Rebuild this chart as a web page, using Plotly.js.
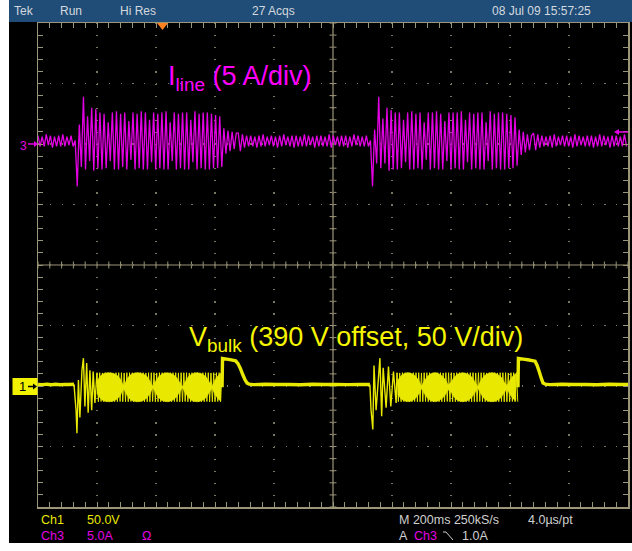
<!DOCTYPE html>
<html><head><meta charset="utf-8">
<script src="https://cdn.plot.ly/plotly-3.0.1.min.js"></script>
<style>html,body{margin:0;padding:0;background:#fff}#chart{width:632px;height:551px}</style>
</head><body><div id="chart"></div>
<script>
// ---------------- DATA ----------------
// Time axis: 200 ms/div, 10 div. Ch3 = line current (A), Ch1 = Vbulk deviation from 390 V (V).
const iStep = 7; // ms between plotted current samples
const iBase1Start = 0;
const iBase1 = [0.7,-0.2,0.6,-0.2,0.8,-0.1,0.7,-0.3,0.6,-0.2,0.7,-0.2,0.8,-0.2,0.6,-0.1,0.7,-0.2];
const iBurst1Start = 126;
const iBurst1 = [0.3,-3.5,1.6,-1.9,3.9,-2.1,2.3,-1.4,3.0,-2.2,2.9,-2.0,
  2.6,-2.1,2.5,-2.0,1.8,-1.4,2.6,-2.1,2.7,-2.1,
  2.5,-1.9,2.6,-2.1,1.9,-1.3,2.6,-2.1,2.5,-2.0,
  2.7,-2.1,2.6,-2.1,2.0,-1.5,2.6,-2.1,2.5,-2.0,
  2.6,-2.1,2.7,-2.1,1.8,-1.4,2.6,-2.1,2.5,-2.0,
  2.6,-2.1,2.6,-2.1,2.0,-1.5,2.7,-2.1,2.5,-2.0,
  2.6,-2.1,2.6,-2.1,2.5,-2.0,2.4,-2.0,2.3,-1.9];
const iTail1Start = 630;
const iTail1 = [1.3,-0.8,1.1,-0.6,1.0,-0.4,0.9];
const iBase2Start = 679;
const iBase2 = [0.9,-0.6,0.8,-0.3,0.7,-0.2,0.7,-0.2,
  0.6,-0.3,0.7,-0.2,0.8,-0.2,0.6,-0.1,
  0.7,-0.2,0.6,-0.3,0.7,-0.2,0.8,-0.1,
  0.6,-0.2,0.7,-0.3,0.7,-0.2,0.6,-0.2,
  0.8,-0.2,0.7,-0.1,0.6,-0.3,0.7,-0.2,
  0.7,-0.2,0.6,-0.2,0.8,-0.3,0.7,-0.1,
  0.6,-0.2,0.7,-0.2,0.7,-0.3,0.6,-0.2,
  0.8,-0.1,0.7,-0.2,0.6,-0.2,0.7,-0.2];
const iBurst2Start = 1127;
const iBurst2 = [0.3,-3.5,1.2,-1.6,3.9,-2.0,2.1,-1.6,3.0,-2.2,2.8,-2.1,
  2.6,-2.1,2.6,-2.0,2.0,-1.5,2.6,-2.1,2.7,-2.1,
  2.5,-2.0,2.6,-2.1,1.8,-1.3,2.6,-2.1,2.6,-2.0,
  2.7,-2.1,2.5,-2.1,1.9,-1.4,2.6,-2.1,2.6,-2.0,
  2.6,-2.1,2.7,-2.1,2.0,-1.5,2.6,-2.1,2.5,-2.0,
  2.6,-2.1,2.6,-2.1,1.8,-1.4,2.7,-2.1,2.5,-2.0,
  2.6,-2.1,2.6,-2.1,2.5,-2.0,2.4,-2.0,2.2,-1.8];
const iTail2Start = 1631;
const iTail2 = [1.2,-0.9,1.0,-0.7,0.8,-0.5,0.7];
const iBase3Start = 1680;
const iBase3 = [0.9,-0.5,0.8,-0.3,0.7,-0.2,0.6,-0.2,
  0.7,-0.3,0.8,-0.2,0.6,-0.1,0.7,-0.2,
  0.7,-0.2,0.6,-0.3,0.8,-0.2,0.7,-0.1,
  0.6,-0.2,0.7,-0.2,0.7,-0.3,0.6,-0.2,
  0.8,-0.2,0.7,-0.1,0.6,-0.3,0.7,-0.2,
  0.7,-0.2,0.6,-0.2,0.8,-0.2];

// Vbulk quiet parts (ms, V)
const vBase1T = [0,15,30,45,60,75,90,105,122];
const vBase1V = [1.3,1.0,1.5,1.1,1.4,1.0,1.3,1.2,1.4];
const vTail1T = [624,625.5,640,655,670,678,686,694,702,709,716,730,770,810,850,890,930,970,1010,1050,1090,1125];
const vTail1V = [-1,22.8,22.2,21.6,20.8,18.5,14.5,9.5,5,2.4,1.5,1.1,1.4,1.2,1.3,1.0,1.4,1.2,1.3,1.1,1.3,1.2];
const vTail2T = [1627,1628.5,1645,1660,1685,1692,1699,1706,1712,1720,1735,1775,1815,1855,1895,1935,1975,2000];
const vTail2V = [-1,22.8,22.2,21.7,20.5,17,12,6.5,2.5,1.5,1.1,1.4,1.2,1.3,1.0,1.4,1.2,1.3];
// Vbulk start-up ringing
const vSpike1T = [122,129,132,137,142,149,154,159,165,170,176,182,187,193,200];
const vSpike1V = [1.3,-20,-39,5,-26,13,23,-17,19,-22,13,-20,12,-14,11];
const vSpike2T = [1125,1129,1135,1139,1146,1159,1165,1170,1180,1188,1196,1205,1214,1217];
const vSpike2V = [1.2,-20,-36,17,-20,23,-25,15,-18,16,-17,12,-14,11];
// Vbulk ripple band (stroke peaks)
const vBandStep = 4.6;
const vBand1Start = 200;
const vBand1 = [11,-13,11,-12.8,10.8,-13,11,-13,11,-12.8,
  11,-13,10.8,-13,11,-13,11,-12.8,11,-13,
  10.8,-13,11,-13,11,-12.8,11,-13,10.8,-13,
  11,-13,11,-12.8,11,-13,10.8,-13,11,-13,
  11,-12.8,11,-13,10.8,-13,11,-13,11,-12.8,
  11,-13,10.8,-13,11,-13,11,-12.8,11,-13,
  10.8,-13,11,-13,11,-12.8,11,-13,10.8,-13,
  11,-13,11,-12.8,11,-13,10.8,-13,11,-13,
  11,-12.8,11,-13,10.8,-13,11,-13,11,-12.8,
  11,-13,11];
const vBand2Start = 1217;
const vBand2 = [11,-13,10.8,-13,11,-12.8,11,-13,11,-13,
  10.8,-13,11,-12.8,11,-13,11,-13,10.8,-13,
  11,-12.8,11,-13,11,-13,10.8,-13,11,-12.8,
  11,-13,11,-13,10.8,-13,11,-12.8,11,-13,
  11,-13,10.8,-13,11,-12.8,11,-13,11,-13,
  10.8,-13,11,-12.8,11,-13,11,-13,10.8,-13,
  11,-12.8,11,-13,11,-13,10.8,-13,11,-12.8,
  11,-13,11,-13,10.8,-13,11,-12.8,11,-13,
  11,-13,10.8,-13,11,-12.8,11,-13,11,-13];
// Vbulk beat "bubbles" envelope (upper / lower, V), every 10 ms
const vBubStep = 10;
const vBub1Start = 200;
const vBub1Up = [4,8,10,10.8,11,10.8,10,8.5,5.5,0, 5,8.6,10.2,10.9,11,10.6,9.6,7.8,4,-0.5, 4.5,8,9.9,10.8,11,10.4,9.2,7,3,-0.5, 4,7.8,9.8,10.8,11,10.6,9.5,7.6,3.5,0, 5,8.5,10.5];
const vBub1Lo = [-6,-10,-12,-12.8,-13,-12.8,-12,-10.5,-7.5,-2, -7,-10.6,-12.2,-12.9,-13,-12.6,-11.6,-9.8,-6,-1.5, -6.5,-10,-11.9,-12.8,-13,-12.4,-11.2,-9,-5,-1.5, -6,-9.8,-11.8,-12.8,-13,-12.6,-11.5,-9.6,-5.5,-2, -7,-10.5,-12.5];
const vBub2Start = 1220;
const vBub2Up = [5,8.5,10.2,10.9,10.9,10,8.2,5,0, 4.5,8,10,10.9,10.9,10,8.4,5.5,1, 3,7,9.5,10.6,11,10.6,9.5,7.6,4,-0.5, 4,7.8,9.8,10.8,11,10.6,9.4,7.5,3.5,0.5, 5,8.5,10.2];
const vBub2Lo = [-7,-10.5,-12.2,-12.9,-12.9,-12,-10.2,-7,-2, -6.5,-10,-12,-12.9,-12.9,-12,-10.4,-7.5,-3, -5,-9,-11.5,-12.6,-13,-12.6,-11.5,-9.6,-6,-1.5, -6,-9.8,-11.8,-12.8,-13,-12.6,-11.4,-9.5,-5.5,-2.5, -7,-10.5,-12.2];

// Screen text
const headerLabels = ['Tek','Run','Hi Res','27 Acqs','08 Jul 09 15:57:25'];
const ch1Label = ['Ch1','50.0V'];
const ch3Label = ['Ch3','5.0A','\u03A9'];
const timebaseLabel = ['M 200ms 250kS/s','4.0\u00B5s/pt'];
const triggerLabel = ['A','Ch3','1.0A'];
const currentTitle = 'I<sub>line</sub> (5 A/div)';
const voltageTitle = 'V<sub>bulk</sub> (390 V offset, 50 V/div)';

// ---------------- helpers ----------------
function times(start, step, vals){ return vals.map((v,k)=>start + k*step); }
function join(parts){ // parts: [xs, ys] pairs; joined with gaps
  const x=[], y=[];
  parts.forEach((p,i)=>{ if(i){x.push(null);y.push(null);} x.push(...p[0]); y.push(...p[1]); });
  return {x,y};
}

const curSegs = [[iBase1Start,iBase1],[iBurst1Start,iBurst1],[iTail1Start,iTail1],[iBase2Start,iBase2],
                 [iBurst2Start,iBurst2],[iTail2Start,iTail2],[iBase3Start,iBase3]];
const curX=[], curY=[];
curSegs.forEach(s=>{ curX.push(...times(s[0],iStep,s[1])); curY.push(...s[1]); });

const vQuiet = join([[vBase1T,vBase1V],[vTail1T,vTail1V],[vTail2T,vTail2V]]);
const vSpk = join([[vSpike1T,vSpike1V],[vSpike2T,vSpike2V]]);
const vBand = join([[times(vBand1Start,vBandStep,vBand1),vBand1],[times(vBand2Start,vBandStep,vBand2),vBand2]]);
function bubble(start, up, lo){
  const t = times(start, vBubStep, up);
  return {x: t.concat(t.slice().reverse()), y: up.concat(lo.slice().reverse())};
}
const b1 = bubble(vBub1Start, vBub1Up, vBub1Lo);
const b2 = bubble(vBub2Start, vBub2Up, vBub2Lo);

const MAG = '#e400e4', YEL = '#e8e800';
const traces = [
  {x:b1.x, y:b1.y, yaxis:'y2', mode:'lines', fill:'toself', fillcolor:YEL, line:{color:YEL,width:0.5,simplify:false}, hoverinfo:'skip'},
  {x:b2.x, y:b2.y, yaxis:'y2', mode:'lines', fill:'toself', fillcolor:YEL, line:{color:YEL,width:0.5,simplify:false}, hoverinfo:'skip'},
  {x:vBand.x, y:vBand.y, yaxis:'y2', mode:'lines', line:{color:YEL,width:1,simplify:false}, connectgaps:false},
  {x:vSpk.x, y:vSpk.y, yaxis:'y2', mode:'lines', line:{color:YEL,width:1.4,simplify:false}, connectgaps:false},
  {x:vQuiet.x, y:vQuiet.y, yaxis:'y2', mode:'lines', line:{color:YEL,width:3.4,simplify:false}, connectgaps:false},
  {x:curX, y:curY, yaxis:'y', mode:'lines', line:{color:MAG,width:1.3,simplify:false}}
];

// ---------------- screen decoration ----------------
const X0=38, X1=628, Y0=23, Y1=507;
const px = x => (x - X0)/(X1 - X0);
const py = y => (Y1 - y)/(Y1 - Y0);
const TAN = '#9c9678', DOT = '#7a7662';

const shapes = [];
shapes.push({type:'rect', xref:'paper', yref:'paper', x0:px(9), x1:px(632), y0:py(543), y1:py(22), fillcolor:'#000', line:{width:0}, layer:'below'});
shapes.push({type:'rect', xref:'paper', yref:'paper', x0:px(9), x1:px(632), y0:py(22), y1:py(0), fillcolor:'#1f4d78', line:{width:0}, layer:'below'});
// centre cross
shapes.push({type:'line', xref:'x', yref:'paper', x0:1000, x1:1000, y0:0, y1:1, line:{color:TAN,width:1.2}, layer:'below'});
shapes.push({type:'line', xref:'paper', yref:'paper', x0:0, x1:1, y0:0.5, y1:0.5, line:{color:TAN,width:1.2}, layer:'below'});
for(let t=0;t<=2000;t+=40){
  shapes.push({type:'line', xref:'x', yref:'paper', x0:t, x1:t, ysizemode:'pixel', yanchor:0.5, y0:-3.5, y1:3.5, line:{color:TAN,width:1}, layer:'below'});
}
for(let k=0;k<=40;k++){
  shapes.push({type:'line', xref:'x', yref:'paper', xsizemode:'pixel', xanchor:1000, x0:-3.5, x1:3.5, y0:k/40, y1:k/40, line:{color:TAN,width:1}, layer:'below'});
}
// trigger position marker (top)
shapes.push({type:'path', xref:'paper', yref:'paper', path:`M ${px(157)},${py(23)} L ${px(168)},${py(23)} L ${px(162.5)},${py(30)} Z`, fillcolor:'#ff8020', line:{width:0}});
// Ch3 ground marker
shapes.push({type:'line', xref:'paper', yref:'paper', x0:px(28), x1:px(35), y0:py(144), y1:py(144), line:{color:MAG,width:1.5}});
shapes.push({type:'path', xref:'paper', yref:'paper', path:`M ${px(34)},${py(141)} L ${px(38)},${py(144)} L ${px(34)},${py(147)} Z`, fillcolor:MAG, line:{width:0}});
// Ch1 ground marker
shapes.push({type:'rect', xref:'paper', yref:'paper', x0:px(12.5), x1:px(37.5), y0:py(395), y1:py(378), fillcolor:'#f2f200', line:{width:0}});
shapes.push({type:'line', xref:'paper', yref:'paper', x0:px(28), x1:px(34), y0:py(386.5), y1:py(386.5), line:{color:'#000',width:1.5}});
shapes.push({type:'path', xref:'paper', yref:'paper', path:`M ${px(33)},${py(383.5)} L ${px(37)},${py(386.5)} L ${px(33)},${py(389.5)} Z`, fillcolor:'#000', line:{width:0}});
// trigger level marker (right)
shapes.push({type:'line', xref:'paper', yref:'paper', x0:px(618), x1:px(628), y0:py(132), y1:py(132), line:{color:MAG,width:1.5}});
shapes.push({type:'path', xref:'paper', yref:'paper', path:`M ${px(619)},${py(129)} L ${px(614)},${py(132)} L ${px(619)},${py(135)} Z`, fillcolor:MAG, line:{width:0}});
// falling-edge symbol
shapes.push({type:'line', xref:'paper', yref:'paper', x0:px(446), x1:px(453), y0:py(532), y1:py(540), line:{color:'#d0d0d0',width:1}});
shapes.push({type:'line', xref:'paper', yref:'paper', x0:px(443), x1:px(446), y0:py(532), y1:py(532), line:{color:'#d0d0d0',width:1}});

const SF = 'Liberation Sans, Arial, sans-serif';
function txt(s, x, y, color, size, anchor){
  return {text:s, xref:'paper', yref:'paper', x:px(x), y:py(y), xanchor:anchor||'left', yanchor:'middle', showarrow:false,
          font:{family:SF, size:size||12, color:color}};
}
const GRAY = '#d4d8de';
const annotations = [
  txt(headerLabels[0], 12, 11, GRAY, 12),
  txt(headerLabels[1], 58, 11, GRAY, 12),
  txt(headerLabels[2], 118, 11, GRAY, 12),
  txt(headerLabels[3], 250, 11, GRAY, 12),
  txt(headerLabels[4], 490, 11, GRAY, 12),
  txt(ch1Label[0], 39, 520, YEL, 12.5),
  txt(ch1Label[1], 85, 520, YEL, 12.5),
  txt(ch3Label[0], 39, 536, MAG, 12.5),
  txt(ch3Label[1], 85, 536, MAG, 12.5),
  txt(ch3Label[2], 140, 536, MAG, 12.5),
  txt(timebaseLabel[0], 397, 520, '#d0d0d0', 12.5),
  txt(timebaseLabel[1], 526, 520, '#d0d0d0', 12.5),
  txt(triggerLabel[0], 397, 536, '#d0d0d0', 12.5),
  txt(triggerLabel[1], 412, 536, MAG, 12.5),
  txt(triggerLabel[2], 460, 536, '#d0d0d0', 12.5),
  txt('3', 23.5, 145.5, MAG, 12, 'center'),
  txt('1', 22, 387, '#000', 13, 'center'),
  txt(currentTitle, 166, 78, '#ff00ff', 27),
  txt(voltageTitle, 187, 339, '#f5f500', 27)
];

const layout = {
  width:632, height:551,
  margin:{l:X0, r:632-X1, t:Y0, b:551-Y1, pad:0},
  paper_bgcolor:'#ffffff', plot_bgcolor:'#000000',
  showlegend:false, hovermode:false,
  xaxis:{range:[0,2000], tick0:0, dtick:200, ticks:'inside', ticklen:5, tickwidth:1, tickcolor:TAN,
         showline:true, linecolor:TAN, linewidth:1.5, mirror:'ticks', showticklabels:false, zeroline:false,
         showgrid:true, gridcolor:DOT, gridwidth:1.2, griddash:'1.2px,10.9px',
         minor:{dtick:40, tick0:0, ticks:'inside', ticklen:5, tickwidth:1, tickcolor:TAN, showgrid:false}},
  yaxis:{range:[-30,10], tick0:0, dtick:5, ticks:'inside', ticklen:5, tickwidth:1, tickcolor:TAN,
         showline:true, linecolor:TAN, linewidth:1.5, mirror:'ticks', showticklabels:false, zeroline:false,
         showgrid:true, gridcolor:DOT, gridwidth:1.2, griddash:'1.2px,10.6px',
         minor:{dtick:1, tick0:0, ticks:'inside', ticklen:5, tickwidth:1, tickcolor:TAN, showgrid:false}},
  yaxis2:{range:[-100,300], overlaying:'y', showgrid:false, zeroline:false, showline:false, ticks:'', showticklabels:false},
  shapes:shapes, annotations:annotations
};
Plotly.newPlot('chart', traces, layout, {staticPlot:true, displayModeBar:false});
</script></body></html>
